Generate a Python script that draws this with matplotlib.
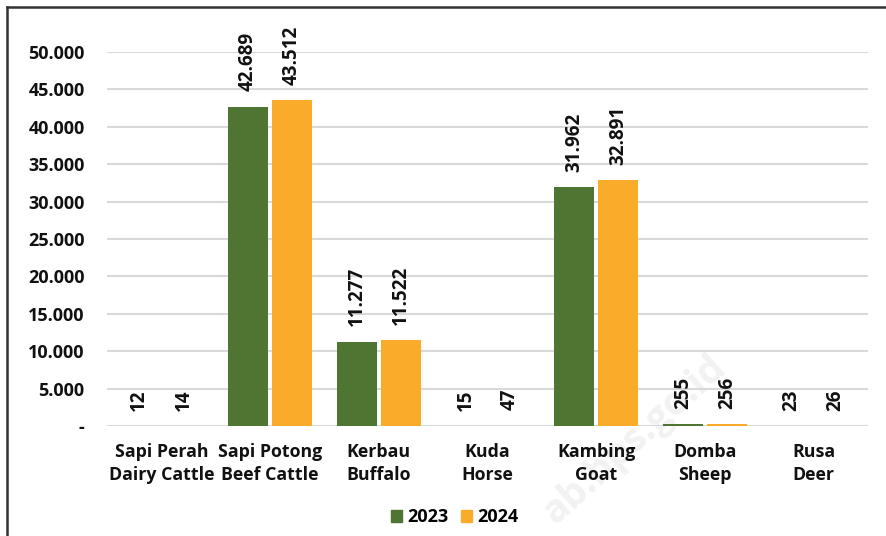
import matplotlib
matplotlib.use('Agg')
import matplotlib.pyplot as plt
import numpy as np
from matplotlib.lines import Line2D
from matplotlib.patches import Patch

# data
categories = ['Sapi Perah\nDairy Cattle', 'Sapi Potong\nBeef Cattle', 'Kerbau\nBuffalo',
              'Kuda\nHorse', 'Kambing\nGoat', 'Domba\nSheep', 'Rusa\nDeer']
val_2023 = [12, 42689, 11277, 15, 31962, 255, 23]
val_2024 = [14, 43512, 11522, 47, 32891, 256, 26]
yticks = [0, 5000, 10000, 15000, 20000, 25000, 30000, 35000, 40000, 45000, 50000]

green = '#4e7532'
orange = '#f9ab2a'
txt = '#111111'

plt.rcParams['font.family'] = ['Open Sans', 'DejaVu Sans']
plt.rcParams['font.weight'] = 'bold'


def fmt(v):
    if v == 0:
        return '-'
    return '{:,}'.format(v).replace(',', '.')


fig = plt.figure(figsize=(8.87, 5.36), dpi=100)
ax = fig.add_axes([0.1206, 0.2052, 0.858, 0.698])

x = np.arange(len(categories))
w = 0.365
gap = 0.02
b1 = ax.bar(x - w / 2 - gap, val_2023, w, color=green, label='2023', zorder=3)
b2 = ax.bar(x + w / 2 + gap, val_2024, w, color=orange, label='2024', zorder=3)

for bars, vals in [(b1, val_2023), (b2, val_2024)]:
    for rect, v in zip(bars, vals):
        ax.annotate(fmt(v), (rect.get_x() + rect.get_width() / 2, rect.get_height()),
                    xytext=(0, 11), textcoords='offset points', rotation=90,
                    ha='center', va='bottom', fontsize=13.5, fontweight='bold',
                    color=txt, clip_on=False, zorder=4)

ax.set_xlim(-0.5, len(categories) - 0.5)
ax.set_ylim(0, 50000)
ax.set_yticks(yticks)
ax.set_yticklabels([fmt(t) for t in yticks], fontsize=13, fontweight='bold', color=txt)
ax.set_xticks(x)
ax.set_xticklabels(categories, fontsize=12.8, fontweight='bold', color=txt,
                   linespacing=1.35)
ax.tick_params(axis='y', length=0, pad=16)
ax.tick_params(axis='x', length=0, pad=12)
ax.grid(axis='y', color='#d9d9d9', linewidth=1.5, zorder=0)
for s in ax.spines.values():
    s.set_visible(False)

fig.legend(handles=[Patch(color=green, label='2023'), Patch(color=orange, label='2024')],
           loc='center', bbox_to_anchor=(0.513, 0.035), ncol=2, frameon=False,
           fontsize=13, handlelength=0.6, handleheight=0.6, handletextpad=0.3,
           columnspacing=0.7)

# faint watermark
ax.text(4.35, -1900, 'ab.bps.go.id', rotation=42, fontsize=28, color='#f2f2f2',
        ha='center', va='center', zorder=1, clip_on=False)

# frame lines (left and top only)
fig.add_artist(Line2D([0.008, 0.008], [0, 0.987], color='#333333', linewidth=1.8))
fig.add_artist(Line2D([0.008, 1.0], [0.987, 0.987], color='#333333', linewidth=1.8))

fig.savefig('out.png', dpi=100)
